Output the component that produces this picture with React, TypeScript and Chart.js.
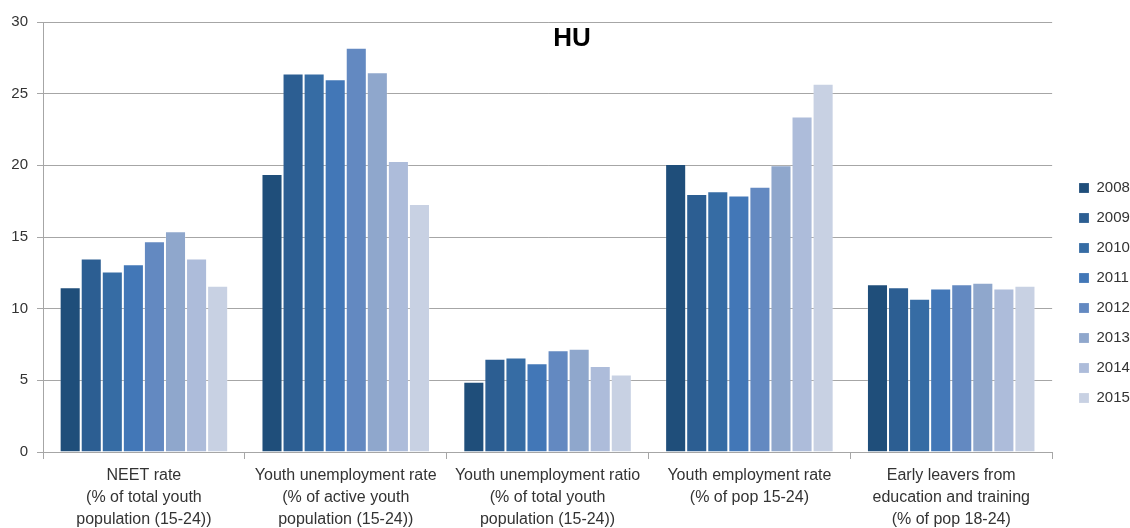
import React, { useEffect, useRef } from "react";
import { Chart, registerables } from "chart.js";

Chart.register(...registerables);

const titleText = "HU";

const categories: string[][] = [
  ["NEET rate", "(% of total youth", "population (15-24))"],
  ["Youth unemployment rate", "(% of active youth", "population (15-24))"],
  ["Youth unemployment ratio", "(% of total youth", "population (15-24))"],
  ["Youth employment rate", "(% of pop 15-24)"],
  ["Early leavers from", "education and training", "(% of pop 18-24)"],
];

const years = ["2008", "2009", "2010", "2011", "2012", "2013", "2014", "2015"];

const values2008 = [11.5, 19.4, 4.9, 20.1, 11.7];
const values2009 = [13.5, 26.4, 6.5, 18.0, 11.5];
const values2010 = [12.6, 26.4, 6.6, 18.2, 10.7];
const values2011 = [13.1, 26.0, 6.2, 17.9, 11.4];
const values2012 = [14.7, 28.2, 7.1, 18.5, 11.7];
const values2013 = [15.4, 26.5, 7.2, 20.0, 11.8];
const values2014 = [13.5, 20.3, 6.0, 23.4, 11.4];
const values2015 = [11.6, 17.3, 5.4, 25.7, 11.6];

const seriesValues = [
  values2008,
  values2009,
  values2010,
  values2011,
  values2012,
  values2013,
  values2014,
  values2015,
];

const yTickStep = 5;
const yMin = 0;
const yMax = 30;

const colors = [
  "#1f4e7a",
  "#2c5e92",
  "#366ca4",
  "#4277b7",
  "#6389c1",
  "#8fa7cc",
  "#adbcda",
  "#c8d1e3",
];

const FONT = '"Liberation Sans", Arial, sans-serif';

export default function App() {
  const canvasRef = useRef<HTMLCanvasElement | null>(null);

  useEffect(() => {
    const canvas = canvasRef.current;
    if (!canvas) return;

    const legendShift = {
      id: "legendShift",
      afterLayout(chart: any) {
        const lg = chart.legend;
        if (!lg) return;
        const targetLeft = 1064;
        const targetTop = 165.5;
        const dx = targetLeft - lg.left;
        const dy = targetTop - lg.top;
        lg.left += dx;
        lg.right += dx;
        lg.top += dy;
        lg.bottom += dy;
      },
    };

    const titlePlugin = {
      id: "huTitle",
      afterDraw(chart: any) {
        const ctx = chart.ctx;
        ctx.save();
        ctx.font = `bold 26px ${FONT}`;
        ctx.fillStyle = "#000000";
        ctx.textAlign = "center";
        ctx.textBaseline = "middle";
        ctx.fillText(titleText, 572, 39);
        ctx.restore();
      },
    };

    const chart = new Chart(canvas, {
      type: "bar",
      data: {
        labels: categories,
        datasets: years.map((y, i) => ({
          label: y,
          data: seriesValues[i],
          backgroundColor: colors[i],
          borderColor: "rgba(255,255,255,0.18)",
          borderWidth: 1,
          categoryPercentage: 0.835,
          barPercentage: 1.0,
        })),
      },
      options: {
        responsive: false,
        animation: false,
        layout: { padding: { top: 22, right: 2, bottom: 0, left: 0 } },
        plugins: {
          legend: {
            position: "right",
            align: "start",
            labels: {
              boxWidth: 10,
              boxHeight: 10,
              padding: 15,
              color: "#333333",
              font: { family: FONT, size: 15 },
            },
          },
          tooltip: { enabled: false },
          title: { display: false },
        },
        scales: {
          x: {
            grid: {
              offset: true,
              drawOnChartArea: false,
              drawTicks: true,
              tickLength: 7,
              color: "#a6a6a6",
            },
            border: { color: "#a6a6a6" },
            ticks: {
              maxRotation: 0,
              minRotation: 0,
              autoSkip: false,
              color: "#333333",
              padding: 6,
              font: { family: FONT, size: 16, lineHeight: 1.375 },
            },
            afterFit(scale: any) {
              scale.height = 76;
            },
          },
          y: {
            min: yMin,
            max: yMax,
            ticks: {
              stepSize: yTickStep,
              color: "#333333",
              padding: 9,
              font: { family: FONT, size: 15 },
            },
            grid: { color: "#a6a6a6", tickLength: 6 },
            border: { color: "#a6a6a6" },
            afterFit(scale: any) {
              scale.width = 43;
            },
          },
        },
      },
      plugins: [legendShift, titlePlugin],
    });

    return () => chart.destroy();
  }, []);

  return (
    <div style={{ position: "fixed", left: 0, top: 0, width: 1130, height: 528, background: "#fff" }}>
      <canvas ref={canvasRef} width={1130} height={528} style={{ display: "block" }} />
    </div>
  );
}
